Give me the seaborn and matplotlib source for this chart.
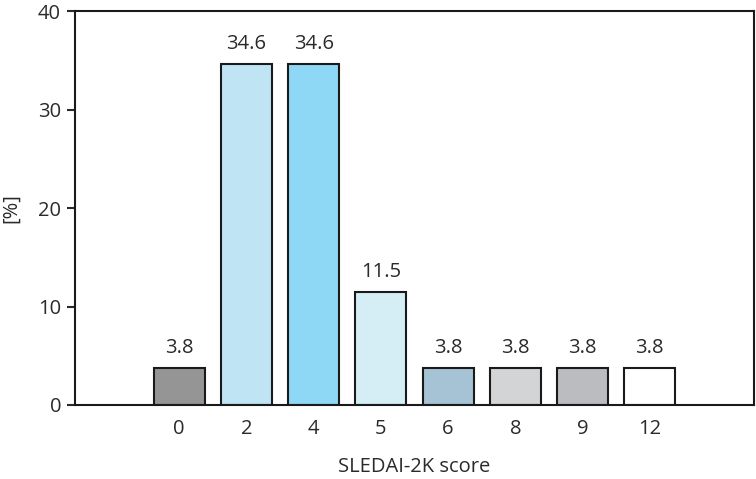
import numpy as np
import pandas as pd
import matplotlib as mpl
from matplotlib import pyplot as plt
import seaborn as sns

# SLEDAI-2K score distribution
scores = ['0', '2', '4', '5', '6', '8', '9', '12']
percent = [3.8, 34.6, 34.6, 11.5, 3.8, 3.8, 3.8, 3.8]
colors = ['#959595', '#bfe4f3', '#8fd8f5', '#d5eef6', '#a5c3d4', '#d3d4d6', '#bbbcc0', '#ffffff']

dframe = pd.DataFrame({'score': scores, 'pct': percent})

sns.set_style("ticks")
plt.rcParams['font.family'] = ['Open Sans', 'DejaVu Sans']

fig = plt.figure(figsize=(7.56, 4.79), dpi=100)
ax = fig.add_axes([0.0992, 0.1545, 0.898, 0.8225])
sns.barplot(ax=ax, data=dframe, x='score', y='pct', hue='score', order=scores,
            palette=dict(zip(scores, colors)), width=0.76, legend=False,
            edgecolor='#1a1a1a', linewidth=1.5, saturation=1)

fs = 14.5
for c in ax.containers:
    ax.bar_label(c, fmt='%.1f', padding=7, fontsize=fs, color='#2a2a2a')

ax.set_xlim(-1.55, 7 + 1.55)
ax.set_ylim(0, 40)
ax.set_yticks([0, 10, 20, 30, 40])
ax.tick_params(axis='y', length=6, width=1.5, labelsize=fs, colors='#2a2a2a', pad=4)
ax.tick_params(axis='x', length=0, labelsize=fs, colors='#2a2a2a', pad=10)
for s in ax.spines.values():
    s.set_linewidth(1.5)
    s.set_color('#1a1a1a')
ax.set_xlabel('SLEDAI-2K score', fontsize=fs, color='#2a2a2a', labelpad=13)
ax.set_ylabel('[%]', fontsize=fs, color='#2a2a2a', labelpad=12)

fig.savefig('out.png', dpi=100)
